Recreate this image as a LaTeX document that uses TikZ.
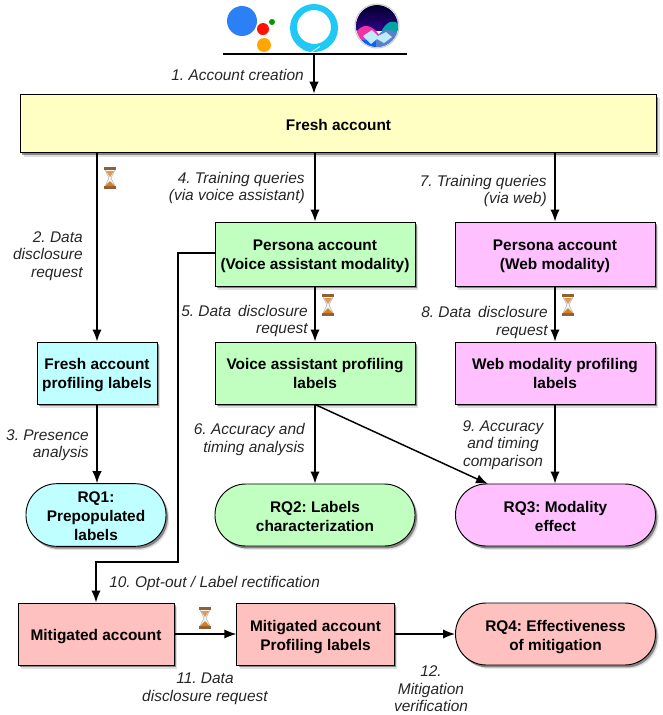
\documentclass[tikz,border=0pt]{standalone}
\usepackage{fontspec}
\setmainfont{Liberation Sans}
\usetikzlibrary{shadows,arrows.meta}
\definecolor{freshy}{HTML}{FFFFC4}
\definecolor{cyanb}{HTML}{C0FFFF}
\definecolor{greenb}{HTML}{C0FFC0}
\definecolor{pinkb}{HTML}{FFC0FF}
\definecolor{redb}{HTML}{FFC0C0}
\definecolor{alexa}{HTML}{1FC8F5}
\definecolor{gblue}{HTML}{2A80F4}
\newcommand{\boxt}[2][12.9pt]{\begin{tabular}{@{}c@{}}\rule{0pt}{#1}#2\end{tabular}}
\tikzset{
  shad/.style={
    drop shadow={shadow xshift=2.4pt,shadow yshift=-2.8pt,opacity=0.12,fill=black},
    drop shadow={shadow xshift=1.4pt,shadow yshift=-1.8pt,opacity=0.4,fill=black}},
  box/.style={draw=black,line width=0.7pt,shad,inner sep=0pt,
    font=\fontsize{11.55}{14.2}\selectfont\bfseries\frenchspacing,minimum height=46.5pt},
  rq/.style={box,rounded corners=23pt},
  lab/.style={font=\fontsize{11.6}{13.2}\selectfont\itshape\frenchspacing,color=black!85,inner sep=0pt},
  arr/.style={line width=1.1pt,-{Latex[length=9pt,width=7pt]}},
  hourglass/.pic={
    \fill[black!4] (-5,-9)--(5,-9)--(1,0)--(5,9)--(-5,9)--(-1,0)--cycle;
    \fill[brown!75!black] (-6,-11) rectangle (6,-8);
    \fill[brown!75!black] (-6,8) rectangle (6,11);
    \fill[brown!60!orange!80] (-4,-7)--(4,-7)--(0,-1)--cycle;
    \fill[brown!60!orange] (-5,8)--(5,8)--(0,3)--cycle;
    \draw[black!40,line width=0.3pt] (-5,-8)--(-1,0)--(-5,8) (5,-8)--(1,0)--(5,8);
  }
}
\begin{document}
\begin{tikzpicture}[x=0.75pt,y=-0.75pt]
  \useasboundingbox (0,0) rectangle (662,715);
  % icons
  \fill[gblue] (242,21) circle (15);
  \fill[red!85!orange] (263,29) circle (6);
  \fill[orange!70!yellow] (264,45) circle (7);
  \fill[green!60!black] (272,22) circle (3);
  \fill[alexa,even odd rule] (314,28) circle (24) (314,27) circle (17);
  \fill[alexa] (303,41)--(311,44)--(311,52)--(303,50)--cycle;
  \draw[white,line width=0.5pt] (311.5,52) -- (320,46.5);
  \begin{scope}
    \clip (377,26) circle (21);
    \shade[top color=black!85!blue,bottom color=violet!50!blue!70!black] (355,4) rectangle (399,30);
    \fill[teal!70!cyan] (382,30) .. controls (388,20) and (394,20) .. (399,24) -- (399,40) -- (382,40) -- cycle;
    \fill[magenta!80] (355,34) .. controls (362,22) and (372,24) .. (380,36) -- (380,48) -- (355,48) -- cycle;
    \fill[blue!60!cyan] (355,40) rectangle (399,48);
    \fill[cyan!40!blue!70] (376,38) .. controls (382,28) and (390,28) .. (399,34) -- (399,48) -- (376,48) -- cycle;
    \fill[white!75!cyan] (363,36) -- (372,30) -- (378,36) -- (386,32) -- (392,37) -- (384,43) -- (377,39) -- (371,44) -- cycle;
  \end{scope}
  \draw[black!20,line width=0.8pt] (377,26) circle (22);
  \coordinate (barl) at (223,54);
  \coordinate (barr) at (407,54);
  \coordinate (barm) at (314,54);
  \draw[line width=1.1pt] (barl) -- (barr);

  % boxes
  \node[box,fill=freshy,minimum width=477pt,minimum height=44pt] (fresh) at (338.5,123.5) {\boxt[14.3pt]{Fresh account}};
  \node[box,fill=greenb,minimum width=150pt,minimum height=48pt] (voice) at (315,254) {\boxt{Persona account\\(Voice assistant modality)}};
  \node[box,fill=pinkb,minimum width=150pt,minimum height=48pt] (web) at (555,254) {\boxt{Persona account\\(Web modality)}};
  \node[box,fill=cyanb,minimum width=90pt] (freshlab) at (97,373) {\boxt{Fresh account\\profiling labels}};
  \node[box,fill=greenb,minimum width=150pt] (voicelab) at (315,373) {\boxt{Voice assistant profiling\\labels}};
  \node[box,fill=pinkb,minimum width=150pt] (weblab) at (555,373) {\boxt{Web modality profiling\\labels}};
  \node[rq,fill=cyanb,minimum width=105pt] (rqa) at (96,515) {\boxt[14.3pt]{RQ1:\\Prepopulated\\labels}};
  \node[rq,fill=greenb,minimum width=150pt] (rqb) at (315,515) {\boxt[14.3pt]{RQ2: Labels\\characterization}};
  \node[rq,fill=pinkb,minimum width=150pt] (rqc) at (555.5,515) {\boxt[14.3pt]{RQ3: Modality\\effect}};
  \node[box,fill=redb,minimum width=117pt] (mit) at (96,634) {\boxt[14.3pt]{Mitigated account}};
  \node[box,fill=redb,minimum width=118pt] (mitlab) at (315.5,634) {\boxt[14.3pt]{Mitigated account\\Profiling labels}};
  \node[rq,fill=redb,minimum width=150pt] (rqd) at (555.5,634) {\boxt[14.3pt]{RQ4: Effectiveness\\of mitigation}};

  % arrows
  \draw[arr] (barm) -- (fresh.north -| barm);
  \draw[arr] (fresh.south -| freshlab.north) -- (freshlab.north);
  \draw[arr] (fresh.south -| voice.north) -- (voice.north);
  \draw[arr] (fresh.south -| web.north) -- (web.north);
  \draw[arr] (voice.south) -- (voicelab.north);
  \draw[arr] (web.south) -- (weblab.north);
  \draw[arr] (freshlab.south) -- (rqa.north -| freshlab.south);
  \draw[arr] (voicelab.south) -- (rqb.north);
  \draw[arr] (weblab.south) -- (rqc.north -| weblab.south);
  \coordinate (rqctop) at (488,484);
  \draw[arr] (voicelab.south) -- (rqctop);
  \coordinate (opta) at (178,253);
  \coordinate (optb) at (178,562);
  \coordinate (optc) at (96,562);
  \draw[arr] (voice.west |- opta) -- (opta) -- (optb) -- (optc) -- (mit.north);
  \draw[arr] (mit.east) -- (mitlab.west);
  \draw[arr] (mitlab.east) -- (rqd.west);

  % hourglasses
  \pic at (110,178) {hourglass};
  \pic at (328,305) {hourglass};
  \pic at (568,305) {hourglass};
  \pic at (205,618) {hourglass};

  % labels
  \node[lab,anchor=east] (la) at (304,75) {1. Account creation};
  \node[lab,anchor=east,align=right] (lb) at (83,256) {2. Data\\disclosure\\request};
  \node[lab,anchor=east,align=right] (lc) at (89,445) {3. Presence\\analysis};
  \node[lab,anchor=east,align=right] (ld) at (305,188) {4. Training queries\\(via voice assistant)};
  \node[lab,anchor=east,align=right] (le) at (308,321) {5. Data\hspace{0.45em}disclosure\\request};
  \node[lab,anchor=east,align=right] (lf) at (305,439.5) {6. Accuracy and\\timing analysis};
  \node[lab,anchor=east,align=right] (lg) at (547,191) {7. Training queries\\(via web)};
  \node[lab,anchor=east,align=right] (lh) at (548,322.5) {8. Data\hspace{0.45em}disclosure\\request};
  \node[lab,align=center] (li) at (503,445) {9. Accuracy\\and timing\\comparison};
  \node[lab,anchor=west] (lj) at (109,583) {10. Opt-out / Label rectification};
  \node[lab,align=center] (lk) at (205,688.5) {11. Data\\disclosure request};
  \node[lab,align=center] (ll) at (431,689) {12.\\Mitigation\\verification};
\end{tikzpicture}
\end{document}
